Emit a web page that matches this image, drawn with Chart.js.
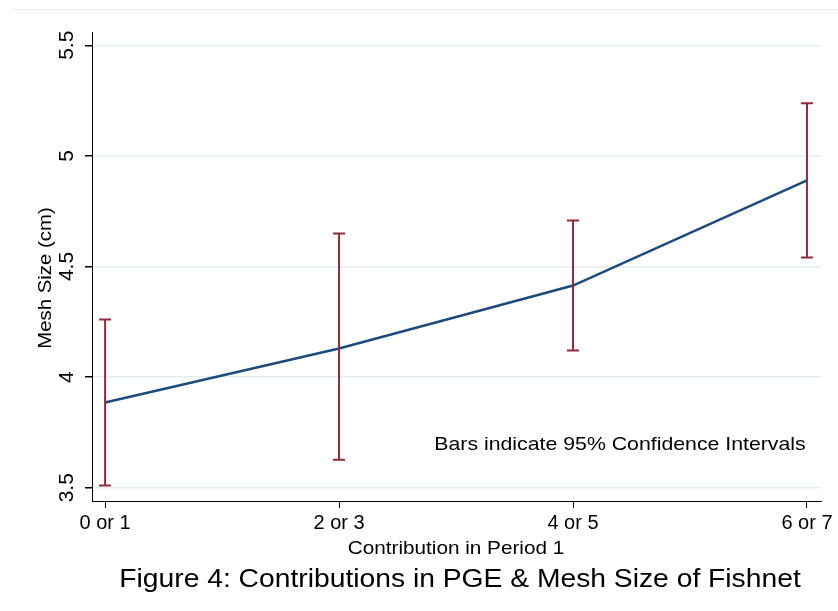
<!DOCTYPE html>
<html>
<head>
<meta charset="utf-8">
<script src="https://cdn.jsdelivr.net/npm/chart.js@4/dist/chart.umd.min.js"></script>
<style>
  html, body { margin: 0; padding: 0; background: #fff; }
  #wrap { width: 838px; height: 611px; }
</style>
</head>
<body>
<div id="wrap"><canvas id="c"></canvas></div>
<script>
// values
const groups = ['0 or 1', '2 or 3', '4 or 5', '6 or 7'];
const meanSize = [3.885, 4.129, 4.414, 4.889];
const ciLow = [3.51, 3.627, 4.12, 4.541];
const ciHigh = [4.26, 4.649, 4.708, 5.238];
const yTicks = [3.5, 4, 4.5, 5, 5.5];
const yTickLabels = ['3.5', '4', '4.5', '5', '5.5'];

const FONT = '"Liberation Sans", Arial, sans-serif';

// error bars, rotated y labels, titles
const extras = {
  id: 'extras',
  afterDatasetsDraw(chart) {
    const ctx = chart.ctx, xs = chart.scales.x, ys = chart.scales.y;
    ctx.save();
    ctx.strokeStyle = '#8e2c3a';
    ctx.lineWidth = 2;
    groups.forEach((g, i) => {
      const px = xs.getPixelForValue(i);
      const top = ys.getPixelForValue(ciHigh[i]);
      const bot = ys.getPixelForValue(ciLow[i]);
      ctx.beginPath();
      ctx.moveTo(px, top); ctx.lineTo(px, bot);
      ctx.moveTo(px - 6, top); ctx.lineTo(px + 6, top);
      ctx.moveTo(px - 6, bot); ctx.lineTo(px + 6, bot);
      ctx.stroke();
    });
    ctx.restore();
  },
  afterDraw(chart) {
    const ctx = chart.ctx, ys = chart.scales.y;
    ctx.save();
    // faint frame line at the top
    ctx.strokeStyle = '#e6eef0';
    ctx.lineWidth = 1;
    ctx.beginPath(); ctx.moveTo(11, 9.5); ctx.lineTo(838, 9.5); ctx.stroke();

    ctx.fillStyle = '#000';
    ctx.textAlign = 'center';
    ctx.textBaseline = 'middle';
    // y tick labels, rotated like the original
    ctx.font = '21px ' + FONT;
    yTicks.forEach((v, i) => {
      ctx.save();
      ctx.translate(67, ys.getPixelForValue(v));
      ctx.rotate(-Math.PI / 2);
      ctx.fillText(yTickLabels[i], 0, 0);
      ctx.restore();
    });
    // y title
    ctx.save();
    ctx.translate(46, 278);
    ctx.rotate(-Math.PI / 2);
    ctx.scale(1.1, 1);
    ctx.font = '18.5px ' + FONT;
    ctx.fillText('Mesh Size (cm)', 0, 0);
    ctx.restore();
    // note
    ctx.save();
    ctx.translate(620, 445);
    ctx.scale(1.12, 1);
    ctx.font = '19px ' + FONT;
    ctx.fillText('Bars indicate 95% Confidence Intervals', 0, 0);
    ctx.restore();
    // x title
    ctx.save();
    ctx.translate(456, 549);
    ctx.scale(1.12, 1);
    ctx.font = '18.5px ' + FONT;
    ctx.fillText('Contribution in Period 1', 0, 0);
    ctx.restore();
    // caption
    ctx.save();
    ctx.translate(460, 580);
    ctx.scale(1.13, 1);
    ctx.font = '25px ' + FONT;
    ctx.fillText('Figure 4: Contributions in PGE & Mesh Size of Fishnet', 0, 0);
    ctx.restore();
    ctx.restore();
  }
};

new Chart(document.getElementById('c'), {
  type: 'line',
  data: {
    datasets: [{
      data: meanSize.map((v, i) => ({ x: i, y: v })),
      borderColor: '#1b4b7b',
      borderWidth: 2.5,
      pointRadius: 0,
      tension: 0,
      fill: false
    }]
  },
  options: {
    responsive: true,
    maintainAspectRatio: false,
    animation: false,
    layout: { padding: { top: 32, right: 17, left: 0, bottom: 0 } },
    plugins: { legend: { display: false }, tooltip: { enabled: false } },
    scales: {
      x: {
        type: 'linear',
        min: -0.056,
        max: 3.06,
        afterBuildTicks: s => { s.ticks = groups.map((g, i) => ({ value: i })); },
        afterFit: s => { s.height = 110; },
        ticks: {
          callback: v => groups[v],
          font: { family: FONT, size: 20 },
          color: '#000',
          padding: 3,
          maxRotation: 0
        },
        grid: { drawOnChartArea: false, tickLength: 7, tickColor: '#000' },
        border: { display: true, color: '#000', width: 1 }
      },
      y: {
        min: 3.44,
        max: 5.56,
        afterBuildTicks: s => { s.ticks = yTicks.map(v => ({ value: v })); },
        afterFit: s => { s.width = 92; },
        ticks: { display: false },
        grid: { color: '#e4eef1', lineWidth: 1.5, tickLength: 7, tickColor: '#000' },
        border: { display: true, color: '#000', width: 1 }
      }
    }
  },
  plugins: [extras]
});
</script>
</body>
</html>
